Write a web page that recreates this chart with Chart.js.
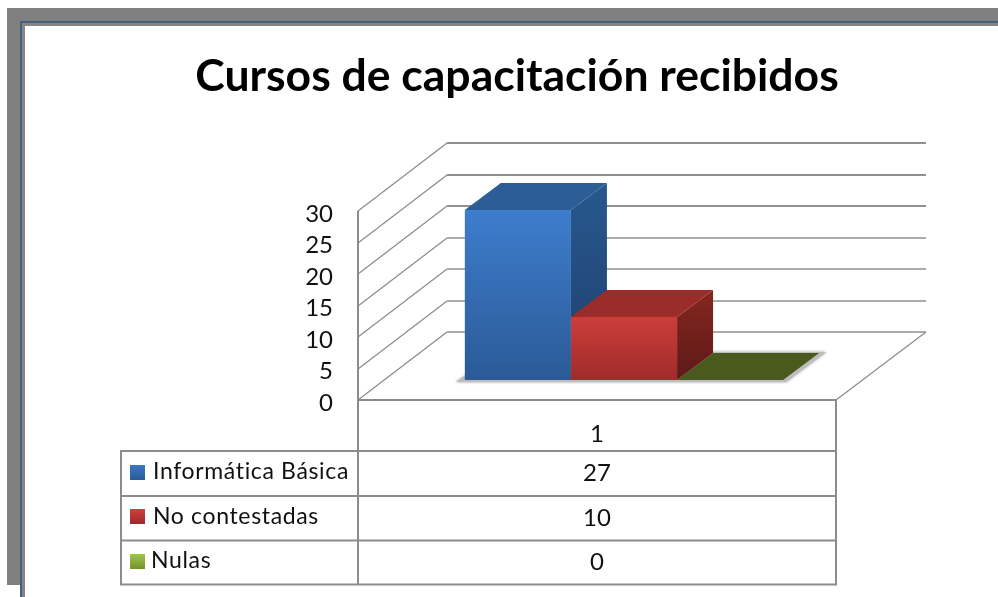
<!DOCTYPE html>
<html>
<head>
<meta charset="utf-8">
<style>
html,body{margin:0;padding:0;background:#fff;width:998px;height:597px;overflow:hidden}
#wrap{position:absolute;left:0;top:0;width:998px;height:597px}
.f{position:absolute}
canvas{position:absolute;left:0;top:0}
</style>
<script src="https://cdn.jsdelivr.net/npm/chart.js@4"></script>
</head>
<body>
<div id="wrap">
<div class="f" style="left:7px;top:8px;width:991px;height:13px;background:#808080"></div>
<div class="f" style="left:7px;top:8px;width:13px;height:577px;background:#808080"></div>
<div class="f" style="left:20px;top:21px;width:978px;height:2px;background:#466179"></div>
<div class="f" style="left:20px;top:21px;width:2px;height:576px;background:#466179"></div>
<div class="f" style="left:22px;top:23px;width:976px;height:3px;background:#858585"></div>
<div class="f" style="left:22px;top:23px;width:3px;height:574px;background:#858585"></div>
<canvas id="c" width="998" height="597"></canvas>
</div>
<script>
const titleText = 'Cursos de capacitación recibidos';
const categories = ['1'];
const seriesNames = ['Informática Básica', 'No contestadas', 'Nulas'];
const informaticaBasica = [27];
const noContestadas = [10];
const nulas = [0];
const yTicks = [0, 5, 10, 15, 20, 25, 30];

const FONT = 'Lato, "Open Sans", sans-serif';
const LINE = '#8c8c8c';
const WALL_DX = 89, WALL_DY = -68;   // back wall offset
const BAR_DX = 27, BAR_DY = -20;     // bars' plane offset
const DEPTH_DX = 36, DEPTH_DY = -27; // bar depth
const BACK_END = 926;
const TABLE_LEFT = 121, TABLE_KEY = 130;
const ROW_Y = [451, 496, 540.5, 584.5];

const palette = [
  {front:['#3e7dcd','#2a5a96'], top:'#2c5d97', side:['#28588f','#1f3f6c'], key:['#3c78c4','#2b5c98']},
  {front:['#cd3d3a','#9f2b2a'], top:'#9a2c2a', side:['#86261f','#5e1a18'], key:['#cf3f3c','#98292a']},
  {front:['#9bc443','#6f8f2c'], top:'#4a5a1e', side:['#5f7a28','#4a5a1e'], key:['#a0c94a','#76922f']}
];

function frontGradient(i){
  return function(ctx){
    const c = ctx.chart, y = c.scales && c.scales.y;
    if(!y || ctx.raw === undefined) return palette[i].front[0];
    const y0 = y.getPixelForValue(ctx.raw), y1 = y.getPixelForValue(0);
    if(!isFinite(y0) || !isFinite(y1)) return palette[i].front[0];
    const g = c.ctx.createLinearGradient(0, y0, 0, y1);
    g.addColorStop(0, palette[i].front[0]);
    g.addColorStop(1, palette[i].front[1]);
    return g;
  };
}

function poly(ctx, pts){
  ctx.beginPath();
  pts.forEach((p,i)=> i ? ctx.lineTo(p[0],p[1]) : ctx.moveTo(p[0],p[1]));
  ctx.closePath();
}

const threeD = {
  id:'threeD',
  afterLayout(chart){
    // the reference's axis digits sit a little below the tick position
    const s = chart.scales.y;
    if(s._shifted) return;
    s._shifted = true;
    const orig = s.drawLabels;
    s.drawLabels = function(area){
      chart.ctx.save();
      chart.ctx.translate(0, 3);
      orig.call(this, area);
      chart.ctx.restore();
    };
  },
  beforeDatasetsDraw(chart){
    const ctx = chart.ctx, y = chart.scales.y, a = chart.chartArea;
    ctx.save();
    // front axis
    ctx.strokeStyle = LINE; ctx.lineWidth = 2;
    ctx.beginPath(); ctx.moveTo(a.left, y.getPixelForValue(30)); ctx.lineTo(a.left, ROW_Y[3]); ctx.stroke();
    // back wall lines and diagonals
    yTicks.forEach(v=>{
      const py = Math.round(y.getPixelForValue(v));
      ctx.strokeStyle = '#8a8a8a'; ctx.lineWidth = 1.2;
      ctx.beginPath(); ctx.moveTo(a.left, py); ctx.lineTo(a.left+WALL_DX, py+WALL_DY); ctx.stroke();
      ctx.strokeStyle = '#909090'; ctx.lineWidth = v>=20 ? 2 : 1.4;
      ctx.beginPath(); ctx.moveTo(a.left+WALL_DX, py+WALL_DY); ctx.lineTo(BACK_END, py+WALL_DY); ctx.stroke();
    });
    // right floor edge
    const py0 = y.getPixelForValue(0);
    ctx.strokeStyle = '#8a8a8a'; ctx.lineWidth = 1.2;
    ctx.beginPath(); ctx.moveTo(a.right, py0); ctx.lineTo(BACK_END, py0+WALL_DY); ctx.stroke();
    // soft floor shadow for the whole bar footprint
    const metas = chart.getSortedVisibleDatasetMetas();
    const first = metas[0].data[0], last = metas[metas.length-1].data[0];
    const x0 = first.x-first.width/2+BAR_DX, x1 = last.x+last.width/2+BAR_DX, by = py0+BAR_DY;
    ctx.save();
    ctx.shadowColor = 'rgba(110,110,110,.7)'; ctx.shadowBlur = 3;
    ctx.fillStyle = '#bdbdbd';
    poly(ctx, [[x0-9,by+2],[x1+3,by+2],[x1+DEPTH_DX+7,by+DEPTH_DY-1],[x0+DEPTH_DX,by+DEPTH_DY-1]]);
    ctx.fill();
    ctx.restore();
    // top and side faces, left to right so nearer bars cover farther sides
    metas.forEach((m,i)=>{
      const el = m.data[0], p = palette[i];
      const l = el.x-el.width/2+BAR_DX, r = el.x+el.width/2+BAR_DX;
      const t = el.y+BAR_DY, b = el.base+BAR_DY;
      if(b-t > 0.5){
        const g = ctx.createLinearGradient(0,t+DEPTH_DY,0,b);
        g.addColorStop(0,p.side[0]); g.addColorStop(1,p.side[1]);
        ctx.fillStyle = g;
        poly(ctx, [[r,t],[r+DEPTH_DX,t+DEPTH_DY],[r+DEPTH_DX,b+DEPTH_DY],[r,b]]);
        ctx.fill();
      }
      ctx.fillStyle = p.top;
      poly(ctx, [[l,t],[r,t],[r+DEPTH_DX,t+DEPTH_DY],[l+DEPTH_DX,t+DEPTH_DY]]);
      ctx.fill();
    });
    ctx.restore();
  },
  beforeDatasetDraw(chart){
    chart.ctx.save();
    chart.ctx.translate(BAR_DX, BAR_DY);
  },
  afterDatasetDraw(chart){
    chart.ctx.restore();
  },
  afterDatasetsDraw(chart){
    // data table, with legend keys
    const ctx = chart.ctx, a = chart.chartArea, y = chart.scales.y;
    const series = [informaticaBasica, noContestadas, nulas];
    ctx.save();
    ctx.strokeStyle = LINE; ctx.lineWidth = 2;
    ctx.beginPath();
    ctx.moveTo(a.left, y.getPixelForValue(0)); ctx.lineTo(a.right, y.getPixelForValue(0));
    ROW_Y.forEach(ry=>{ ctx.moveTo(TABLE_LEFT-1, ry); ctx.lineTo(a.right+1, ry); });
    ctx.moveTo(TABLE_LEFT, ROW_Y[0]); ctx.lineTo(TABLE_LEFT, ROW_Y[3]);
    ctx.moveTo(a.right, y.getPixelForValue(0)); ctx.lineTo(a.right, ROW_Y[3]);
    ctx.stroke();
    const mid = chart.scales.x.getPixelForTick(0);
    ctx.textBaseline = 'middle';
    seriesNames.forEach((name,i)=>{
      const cy = (ROW_Y[i]+ROW_Y[i+1])/2;
      const g = ctx.createLinearGradient(0,cy-9,0,cy+6);
      g.addColorStop(0,palette[i].key[0]); g.addColorStop(1,palette[i].key[1]);
      ctx.fillStyle = g;
      ctx.fillRect(TABLE_KEY, Math.round(cy-9), 15, 15);
      ctx.fillStyle = '#111';
      ctx.textAlign = 'left';
      ctx.font = '23px '+FONT;
      ctx.letterSpacing = '0.65px';
      ctx.fillText(name, TABLE_KEY+(i===2?21:23), cy-2);
      ctx.letterSpacing = '0px';
      ctx.textAlign = 'center';
      ctx.font = '24px '+FONT;
      ctx.fillText(String(series[i][0]), mid, cy);
    });
    ctx.restore();
  }
};

new Chart(document.getElementById('c'), {
  type:'bar',
  data:{
    labels:categories,
    datasets:[
      {label:seriesNames[0], data:informaticaBasica, backgroundColor:frontGradient(0), clip:false},
      {label:seriesNames[1], data:noContestadas, backgroundColor:frontGradient(1), clip:false},
      {label:seriesNames[2], data:nulas, backgroundColor:frontGradient(2), clip:false}
    ]
  },
  options:{
    responsive:false, animation:false,
    devicePixelRatio:1,
    layout:{padding:{left:36,right:0,top:0,bottom:0}},
    datasets:{bar:{categoryPercentage:0.666, barPercentage:1, borderWidth:0}},
    plugins:{
      legend:{display:false},
      tooltip:{enabled:false},
      title:{
        display:true, text:titleText, color:'#000',
        font:{family:FONT, size:44.5, weight:'bold', lineHeight:1.2},
        padding:{top:50,bottom:107.6}, align:'center', fullSize:true
      }
    },
    scales:{
      x:{
        grid:{display:false}, border:{display:false},
        ticks:{color:'#111', font:{family:FONT,size:24}, padding:12},
        afterFit(s){ s.height = 197; }
      },
      y:{
        min:0, max:30,
        grid:{display:false}, border:{display:false},
        ticks:{color:'#111', font:{family:FONT,size:24}, stepSize:5, padding:17, autoSkip:false},
        afterFit(s){ s.width = 322; }
      },
      yr:{
        position:'right', min:0, max:1,
        grid:{display:false}, border:{display:false},
        ticks:{display:false},
        afterFit(s){ s.width = 162; }
      }
    }
  },
  plugins:[threeD]
});
</script>
</body>
</html>
